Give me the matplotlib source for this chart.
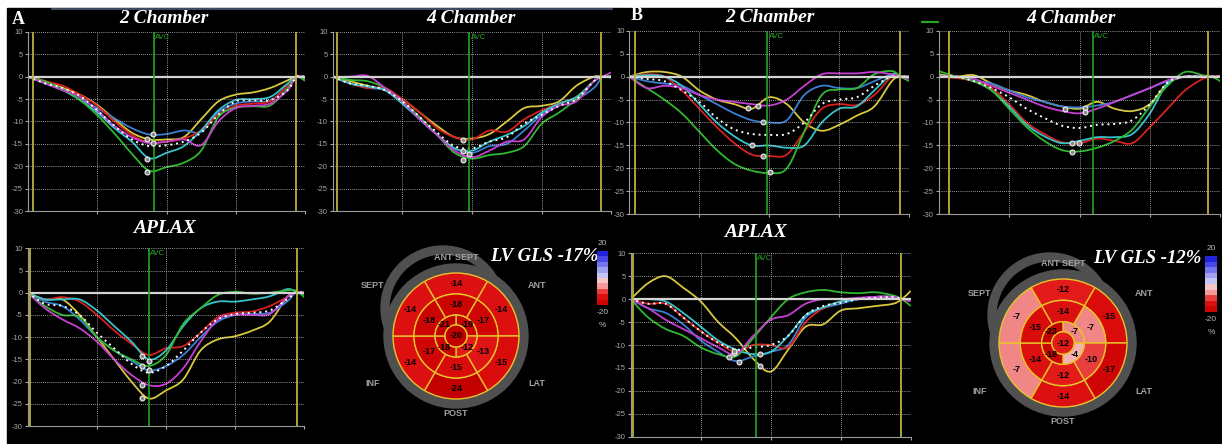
import numpy as np
import matplotlib
matplotlib.use("Agg")
import matplotlib.pyplot as plt
from matplotlib.path import Path
from matplotlib.patches import PathPatch, Wedge, Circle, Rectangle
from matplotlib.colors import LinearSegmentedColormap, ListedColormap, Normalize
from matplotlib.cm import ScalarMappable

plt.rcParams["font.family"] = "Liberation Sans"

W, H = 1222, 444

# segment colours (as on the echo machine)
YELLOW = "#d8c83c"
BLUE = "#3b7fd4"
RED = "#d8201e"
CYAN = "#36c3cc"
GREEN = "#2fb82f"
MAGENTA = "#c73fd2"
SEG_COLORS = [YELLOW, BLUE, RED, CYAN, GREEN, MAGENTA]
ED_YELLOW = "#b8b23a"
AVC_GREEN = "#22a822"
TICK_GREY = "#a8a8a8"
RING_GREY = "#505050"
SEG_EDGE = "#e8c428"

# time axis (grid units) and strain values (%)
t = [0.0, 0.25, 0.5, 0.75, 1.0, 1.25, 1.5, 1.75, 2.0, 2.25, 2.5, 2.75, 3.0, 3.25, 3.5, 3.75, 3.875, 4.0]
y_ticks = [10, 5, 0, -5, -10, -15, -20, -25, -30]

# ---- A, 2 chamber
a2c_yellow = [0, -1.0, -2.5, -4.0, -6.3, -9.5, -12.5, -14.0, -14.0, -13.5, -9.5, -5.5, -4.0, -3.5, -2.5, -0.8, 0, 0]
a2c_blue = [0, -1.3, -2.8, -5.0, -7.0, -9.3, -11.5, -12.9, -12.8, -12.0, -12.3, -8.0, -6.0, -5.5, -5.3, -2.0, 0, -0.3]
a2c_red = [0, -1.0, -2.0, -4.0, -6.5, -10.0, -13.0, -14.7, -14.5, -13.8, -12.0, -8.5, -6.5, -6.0, -5.5, -2.0, 0, -0.3]
a2c_cyan = [0, -1.5, -3.0, -5.2, -8.0, -11.5, -14.5, -18.2, -17.0, -15.5, -12.0, -7.5, -5.2, -5.0, -4.5, -1.5, 0, -0.5]
a2c_green = [0, -1.1, -2.8, -5.2, -8.6, -12.7, -17.2, -21.0, -20.2, -19.2, -16.5, -9.0, -6.9, -6.6, -6.4, -2.6, 0, -0.9]
a2c_magenta = [0, -1.5, -3.0, -4.5, -7.5, -11.0, -13.5, -14.8, -14.5, -14.0, -15.3, -10.0, -7.0, -6.5, -6.0, -3.0, 0, -0.2]
a2c_avg = [0, -1.5, -2.5, -4.3, -7.5, -11.0, -14.0, -15.5, -15.3, -14.5, -12.5, -8.5, -5.5, -5.3, -5.2, -3.0, 0, 0]
a2c_peak_x = [1.80, 1.72, 1.80, 1.72, 1.72]
a2c_peak_y = [-12.9, -14.0, -14.8, -18.3, -21.3]
a2c_ed = [0.07, 3.87]
a2c_avc = 1.82

# ---- A, 4 chamber
a4c_yellow = [0, -1.0, -2.0, -3.0, -5.0, -8.0, -11.0, -13.5, -13.8, -12.8, -10.0, -7.0, -6.5, -5.5, -2.0, 0, 0, 0]
a4c_blue = [0, -1.5, -2.5, -3.0, -6.0, -9.5, -13.0, -16.0, -17.0, -15.5, -15.0, -12.0, -8.5, -6.0, -5.0, -2.5, 0, 0]
a4c_red = [0, -1.5, -2.5, -2.5, -5.0, -8.0, -11.5, -13.5, -14.0, -12.0, -12.3, -9.5, -7.5, -6.0, -4.5, -1.0, 0, 0]
a4c_cyan = [0, -1.5, -2.2, -3.0, -6.0, -9.5, -13.0, -16.0, -16.5, -14.5, -13.0, -11.0, -8.0, -6.0, -4.5, -1.0, 0, -0.2]
a4c_green = [0, -0.7, -1.0, -2.5, -5.5, -9.0, -13.0, -17.0, -18.3, -17.5, -17.0, -15.5, -10.5, -8.0, -5.0, -1.0, 0, 0.2]
a4c_magenta = [0, 0.0, 0.2, -2.5, -5.5, -9.5, -13.0, -16.5, -18.0, -16.5, -14.5, -14.0, -9.0, -6.5, -5.5, -1.0, 0, 1.0]
a4c_avg = [0, -1.5, -2.0, -3.0, -5.5, -9.0, -12.5, -15.5, -16.0, -14.5, -13.5, -10.5, -8.5, -6.5, -5.0, -1.0, 0, 0]
a4c_peak_x = [1.87, 1.87, 1.95, 1.87]
a4c_peak_y = [-14.1, -16.6, -17.3, -18.6]
a4c_ed = [0.06, 3.85]
a4c_avc = 1.96

# ---- A, APLAX
aap_yellow = [0, -1.5, -1.5, -5.0, -10.0, -15.0, -20.0, -23.8, -22.0, -19.5, -13.0, -10.5, -9.8, -8.5, -6.5, -1.0, 0, 0]
aap_blue = [0, -2.0, -3.0, -6.0, -10.0, -13.0, -15.3, -17.5, -16.5, -14.0, -10.0, -6.5, -5.0, -4.8, -4.5, -2.0, 0, 0]
aap_red = [0, -1.5, -1.0, -2.0, -5.0, -8.5, -11.5, -14.0, -12.5, -12.0, -9.0, -5.5, -4.5, -4.2, -3.0, -1.0, 0, 0]
aap_cyan = [0, -1.5, -1.5, -1.5, -4.0, -7.5, -11.0, -15.0, -13.0, -7.5, -3.5, -2.0, -2.0, -1.5, -0.8, 0.8, 0.3, -0.3]
aap_green = [0, -3.0, -5.0, -5.5, -10.0, -13.0, -15.0, -16.5, -14.0, -7.0, -3.5, -0.5, 0.2, -0.2, 0, 0.5, 0.5, -1.0]
aap_magenta = [0, -3.5, -6.0, -8.0, -11.0, -15.0, -18.5, -20.8, -20.5, -17.0, -11.0, -6.0, -5.0, -5.0, -4.8, -1.0, 0, 0]
aap_avg = [0, -2.5, -3.0, -5.0, -9.0, -12.5, -16.0, -18.0, -16.5, -13.0, -9.0, -6.0, -4.8, -4.5, -4.0, -1.5, 0, 0]
aap_peak_x = [1.65, 1.65, 1.75, 1.75, 1.65, 1.65]
aap_peak_y = [-14.2, -16.5, -15.3, -17.4, -20.8, -23.8]
aap_ed = [0.04, 3.90]
aap_avc = 1.75

# ---- B, 2 chamber
b2c_yellow = [0, 1.0, 1.0, 0.0, -3.0, -5.0, -6.0, -7.0, -4.5, -6.0, -10.0, -11.8, -10.5, -8.5, -6.5, -1.0, 0, 0]
b2c_blue = [0, -1.0, -1.5, -2.0, -4.0, -6.0, -8.0, -9.5, -10.0, -9.5, -4.0, -2.0, -2.5, -2.5, -1.0, 0.5, 0, 0]
b2c_red = [0, 0.5, 0.0, -3.0, -7.0, -11.0, -14.5, -17.0, -17.3, -17.0, -12.0, -7.0, -6.0, -6.2, -4.0, 0, 0, 0]
b2c_cyan = [0, 0.3, 0.0, -2.0, -6.0, -10.0, -13.0, -15.0, -15.0, -15.5, -15.0, -10.0, -7.0, -6.5, -3.0, 0.5, 0, 0]
b2c_green = [0, -2.5, -5.0, -8.0, -12.0, -16.0, -19.0, -20.5, -21.0, -20.0, -12.0, -4.0, -2.8, -2.5, 0.5, 1.2, 0, -1.0]
b2c_magenta = [0, -2.5, -2.0, -2.5, -4.0, -5.0, -5.5, -6.0, -6.3, -5.0, -2.0, 0.5, 0.7, 0.7, 1.0, 0.5, 0, -0.5]
b2c_avg = [0, -0.5, -1.0, -3.0, -5.5, -9.0, -11.5, -12.5, -12.7, -12.5, -10.0, -6.0, -5.0, -4.5, -2.0, 0, 0, 0]
b2c_peak_x = [1.69, 1.84, 1.91, 1.76, 1.91, 2.01]
b2c_peak_y = [-6.9, -6.5, -9.9, -15.0, -17.2, -20.7]
b2c_ed = [0.08, 3.87]
b2c_avc = 1.97

# ---- B, 4 chamber
b4c_yellow = [0.5, 0.0, 0.3, -1.5, -3.0, -4.0, -5.5, -6.5, -7.0, -5.5, -7.0, -7.5, -6.0, -1.5, 0, 0, 0, 0]
b4c_blue = [0, 0, -1.0, -1.5, -3.0, -4.5, -5.5, -6.5, -6.7, -6.3, -5.5, -4.0, -2.5, -1.0, 0, 0, 0, 0]
b4c_red = [0, -0.3, -1.0, -2.5, -6.0, -10.0, -12.5, -14.3, -14.5, -13.5, -14.0, -14.5, -11.0, -7.0, -3.0, -0.5, 0, 0.2]
b4c_cyan = [0, 0, -1.0, -3.0, -6.5, -10.5, -13.0, -14.5, -14.0, -13.2, -13.2, -12.5, -8.0, -1.5, 0, 0, 0, 0]
b4c_green = [1.2, 0, -1.0, -3.0, -7.0, -11.0, -14.0, -16.0, -16.3, -15.5, -14.0, -11.5, -6.5, -2.0, 1.0, 0.3, 0, -1.0]
b4c_magenta = [0, 0, -0.5, -2.0, -3.5, -5.0, -6.5, -7.5, -8.0, -7.0, -5.5, -4.0, -2.5, -0.8, 0, 0, 0, 0]
b4c_avg = [0, 0, -1.0, -2.5, -4.5, -7.0, -9.0, -10.7, -11.2, -10.5, -10.3, -9.5, -6.0, -1.3, 0, 0, 0, 0]
b4c_peak_x = [1.80, 2.08, 2.08, 1.90, 1.99, 1.90]
b4c_peak_y = [-7.0, -6.9, -7.8, -14.4, -14.5, -16.4]
b4c_ed = [0.15, 3.82]
b4c_avc = 2.19

# ---- B, APLAX
bap_yellow = [0, 3.5, 5.0, 2.5, -0.5, -5.0, -8.5, -13.0, -15.8, -11.0, -6.0, -5.5, -2.5, -2.0, -1.5, -1.0, 0, 1.8]
bap_blue = [0, -2.0, -3.0, -5.5, -9.0, -11.5, -13.5, -12.5, -11.5, -10.0, -4.0, -2.0, -1.0, 0, 0.5, 0.5, 0, 0]
bap_red = [0, -1.0, -1.0, -4.0, -7.0, -9.5, -11.5, -10.0, -10.0, -10.5, -5.0, -2.0, -0.5, 0, 0.5, 0.5, 0, 0]
bap_cyan = [0, 0, -0.5, -3.0, -6.0, -9.0, -11.0, -12.0, -11.5, -8.0, -3.5, -1.8, -0.5, 0, 0.5, 0.5, 0, 0]
bap_green = [0, -4.0, -6.5, -8.0, -10.5, -12.0, -12.5, -8.5, -4.0, 0.0, 1.5, 2.0, 1.5, 1.3, 1.5, 0.8, 0, -1.5]
bap_magenta = [0, -2.0, -4.5, -6.5, -8.5, -10.5, -12.0, -8.0, -4.5, -3.5, -1.0, 0, 0, 0.3, 0.5, 0.5, 0, -0.5]
bap_avg = [0, -1.0, -1.0, -4.0, -7.0, -9.5, -11.0, -10.5, -10.0, -8.0, -3.5, -1.5, -0.8, 0, 0.3, 0.5, 0, 0]
bap_peak_x = [1.40, 1.48, 1.48, 1.55, 1.85, 1.85]
bap_peak_y = [-12.7, -11.8, -11.3, -13.8, -12.0, -14.5]
bap_ed = [0.03, 3.86]
bap_avc = 1.79

# ---- bullseye values: basal/mid (top, upper-right, lower-right, bottom, lower-left, upper-left),
# apical (upper-right, lower-right, lower-left, upper-left), apex
a_basal = [-14, -14, -15, -24, -14, -14]
a_mid = [-18, -17, -13, -15, -17, -18]
a_apical = [-19, -12, -18, -21]
a_apex = -20
a_gls = "LV GLS -17%"

b_basal = [-12, -15, -17, -14, -7, -7]
b_mid = [-14, -7, -10, -12, -14, -15]
b_apical = [-7, -4, -18, -23]
b_apex = -12
b_gls = "LV GLS -12%"

orient_labels = ["ANT SEPT", "SEPT", "ANT", "INF", "LAT", "POST"]

gls_cmap = LinearSegmentedColormap.from_list("gls", [
    (0.0, "#c20000"), (0.12, "#d80a0a"), (0.22, "#e61e1e"), (0.3, "#ef7070"),
    (0.36, "#f4a4a4"), (0.46, "#f6c8c8"), (0.54, "#c8c8f4"), (0.7, "#8e8ef0"),
    (0.85, "#4848e6"), (1.0, "#1010d4")])
gls_norm = Normalize(-20, 20)

fig = plt.figure(figsize=(W / 100, H / 100), dpi=100, facecolor="white")


def px_axes(x0, y0, x1, y1):
    return fig.add_axes([x0 / W, 1 - y1 / H, (x1 - x0) / W, (y1 - y0) / H])


def smooth_line(ax, x, y, **kw):
    p = np.column_stack([x, y]).astype(float)
    n = len(p)
    verts = [p[0]]
    codes = [Path.MOVETO]
    for i in range(n - 1):
        p0 = p[max(i - 1, 0)]
        p1 = p[i]
        p2 = p[i + 1]
        p3 = p[min(i + 2, n - 1)]
        verts += [p1 + (p2 - p0) / 6, p2 - (p3 - p1) / 6, p2]
        codes += [Path.CURVE4] * 3
    ax.add_patch(PathPatch(Path(verts, codes), fill=False, **kw))


def strain_panel(rect, curves, avg, peak_x, peak_y, ed, avc):
    ax = px_axes(*rect)
    ax.set_facecolor("none")
    ax.set_xlim(0, 4)
    ax.set_ylim(-30, 10)
    ax.set_yticks(y_ticks)
    ax.set_yticklabels([str(v) for v in y_ticks])
    ax.set_xticks([1, 2, 3, 4])
    ax.tick_params(axis="y", colors=TICK_GREY, labelsize=5.5, length=2.5, width=0.8, pad=1)
    ax.tick_params(axis="x", colors=TICK_GREY, length=2.5, width=0.8, labelbottom=False)
    ax.spines["top"].set_visible(False)
    ax.spines["right"].set_visible(False)
    ax.spines["left"].set_color("#9a9a9a")
    ax.spines["bottom"].set_color("#9a9a9a")
    ax.grid(True, color="#c8c8c8", linestyle=(0, (1, 1.5)), linewidth=0.6)
    ax.axhline(0, color="#d4d4d4", lw=1.6)
    for xe in ed:
        ax.axvline(xe, color=ED_YELLOW, lw=1.3)
    ax.axvline(avc, color=AVC_GREEN, lw=1.2)
    ax.text(avc + 0.02, 9.6, "AVC", color=AVC_GREEN, fontsize=5.5, va="top", ha="left")
    for y, c in zip(curves, SEG_COLORS):
        smooth_line(ax, t, y, edgecolor=c, lw=1.3)
    smooth_line(ax, t, avg, edgecolor="white", lw=1.4, linestyle=(0, (1, 2)))
    ax.plot(peak_x, peak_y, "o", ms=3.5, mfc="#8a8a8a", mec="#f0f0f0", mew=0.8)
    return ax


def bullseye(cx, cy, R, basal, mid, apical, apex):
    ax = px_axes(cx - 130, cy - 110, cx + 130, cy + 110)
    ax.set_xlim(-130, 130)
    ax.set_ylim(-110, 110)
    ax.axis("off")
    ax.add_patch(Wedge((-13, 28), 62, 0, 360, width=8, color=RING_GREY))
    ax.add_patch(Circle((0, 0), R + 9, color=RING_GREY))
    six = [(60, 120), (0, 60), (300, 360), (240, 300), (180, 240), (120, 180)]
    four = [(0, 90), (270, 360), (180, 270), (90, 180)]
    rings = [(basal, R, R * 0.667, six), (mid, R * 0.667, R * 0.333, six),
             (apical, R * 0.333, R * 0.175, four)]
    for vals, r_out, r_in, spans in rings:
        for v, (a0, a1) in zip(vals, spans):
            ax.add_patch(Wedge((0, 0), r_out, a0, a1, width=r_out - r_in,
                               facecolor=gls_cmap(gls_norm(v)), edgecolor=SEG_EDGE, lw=1.0))
            a = np.deg2rad((a0 + a1) / 2)
            rr = (r_out + r_in) / 2
            ax.text(rr * np.cos(a), rr * np.sin(a), str(v), ha="center", va="center",
                    fontsize=6.5, fontweight="bold", color="black")
    ax.add_patch(Circle((0, 0), R * 0.175, facecolor=gls_cmap(gls_norm(apex)), edgecolor=SEG_EDGE, lw=1.0))
    ax.text(0, 0, str(apex), ha="center", va="center", fontsize=6.5, fontweight="bold", color="black")
    spots = [(0, 79), (-83, 50), (81, 50), (-83, -48), (81, -48), (0, -78)]
    for lab, (lx, ly) in zip(orient_labels, spots):
        ax.text(lx, ly, lab, ha="center", va="center", fontsize=6.5, fontweight="bold", color="#a0a0a0")


def colour_bar(x0, y0, x1, y1):
    cax = px_axes(x0, y0, x1, y1)
    bands = ListedColormap(gls_cmap(np.linspace(0.05, 0.95, 10)))
    cb = fig.colorbar(ScalarMappable(norm=gls_norm, cmap=bands), cax=cax)
    cb.set_ticks([])
    cb.outline.set_visible(False)
    xc = (x0 + x1) / 2
    bg.text(xc, y0 - 8, "20", ha="center", va="center", fontsize=6, color="#b8b8b8")
    bg.text(xc, y1 + 7, "-20", ha="center", va="center", fontsize=6, color="#b8b8b8")
    bg.text(xc, y1 + 20, "%", ha="center", va="center", fontsize=6, color="#b8b8b8")


# background (pixel coordinates)
bg = fig.add_axes([0, 0, 1, 1])
bg.set_zorder(-1)
bg.set_xlim(0, W)
bg.set_ylim(H, 0)
bg.axis("off")
bg.add_patch(Rectangle((7, 8), W - 7, H - 8, color="black"))
bg.plot([52, 612], [9.5, 9.5], color="#46526a", lw=1.3)
bg.plot([922, 938], [22, 22], color=AVC_GREEN, lw=1.5)

serif = dict(family="Liberation Serif", color="white", fontweight="bold", ha="center", va="center")
bg.text(18.5, 19, "A", fontsize=13, **serif)
bg.text(637, 16, "B", fontsize=13, **serif)
for x, y, s in [(164, 18.5, "2 Chamber"), (471.5, 18.5, "4 Chamber"), (164, 228.5, "APLAX"),
                (769.5, 17, "2 Chamber"), (1071.5, 18.5, "4 Chamber"), (755, 232, "APLAX")]:
    bg.text(x, y, s, fontsize=14, style="italic", **serif)
for x, y, s in [(544.5, 256.5, a_gls), (1147, 258.5, b_gls)]:
    bg.text(x, y, s, fontsize=13.5, style="italic", **serif)

strain_panel((28, 32, 305, 211),
             [a2c_yellow, a2c_blue, a2c_red, a2c_cyan, a2c_green, a2c_magenta],
             a2c_avg, a2c_peak_x, a2c_peak_y, a2c_ed, a2c_avc)
strain_panel((332.7, 32, 611.3, 211),
             [a4c_yellow, a4c_blue, a4c_red, a4c_cyan, a4c_green, a4c_magenta],
             a4c_avg, a4c_peak_x, a4c_peak_y, a4c_ed, a4c_avc)
strain_panel((27.7, 248.3, 304.3, 426),
             [aap_yellow, aap_blue, aap_red, aap_cyan, aap_green, aap_magenta],
             aap_avg, aap_peak_x, aap_peak_y, aap_ed, aap_avc)
strain_panel((629.3, 30.7, 909.3, 214.3),
             [b2c_yellow, b2c_blue, b2c_red, b2c_cyan, b2c_green, b2c_magenta],
             b2c_avg, b2c_peak_x, b2c_peak_y, b2c_ed, b2c_avc)
strain_panel((938.7, 30.7, 1220.3, 214.3),
             [b4c_yellow, b4c_blue, b4c_red, b4c_cyan, b4c_green, b4c_magenta],
             b4c_avg, b4c_peak_x, b4c_peak_y, b4c_ed, b4c_avc)
strain_panel((630.7, 253.3, 910.7, 436.7),
             [bap_yellow, bap_blue, bap_red, bap_cyan, bap_green, bap_magenta],
             bap_avg, bap_peak_x, bap_peak_y, bap_ed, bap_avc)

bullseye(456, 336, 63, a_basal, a_mid, a_apical, a_apex)
bullseye(1063, 343, 64, b_basal, b_mid, b_apical, b_apex)
colour_bar(597, 251, 608, 305)
colour_bar(1205, 256, 1217, 312)

fig.savefig("out.png", dpi=100, facecolor="white")
